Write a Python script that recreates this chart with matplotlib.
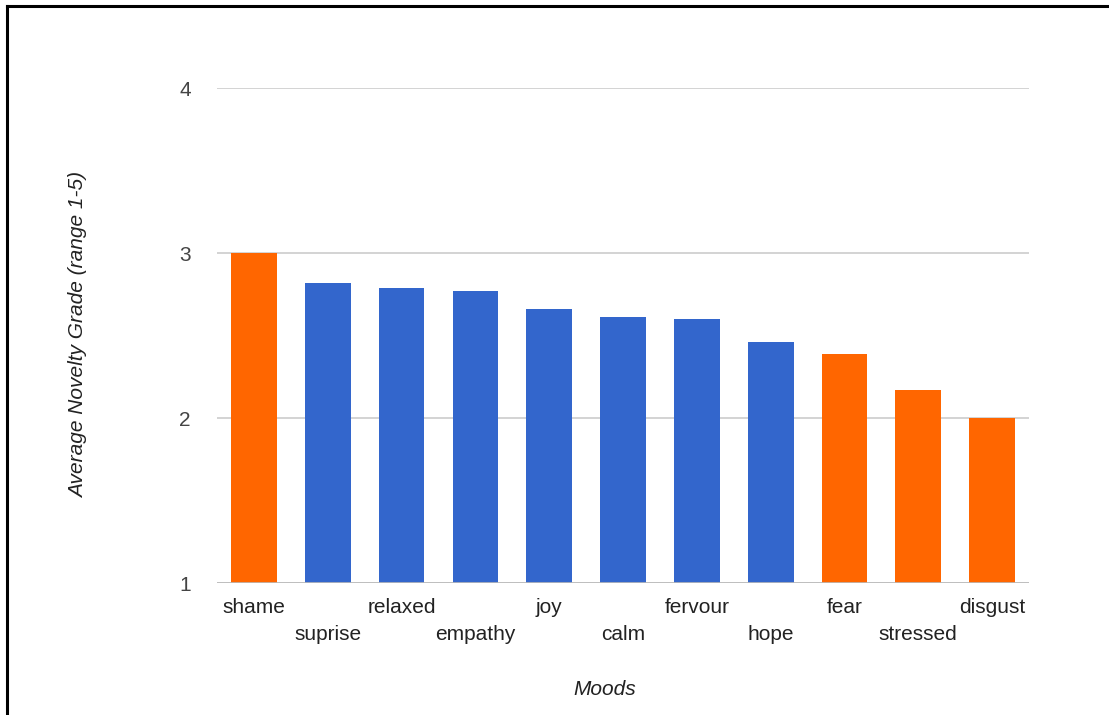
import matplotlib
matplotlib.use("Agg")
import matplotlib.pyplot as plt
from matplotlib.lines import Line2D

moods = ["shame", "suprise", "relaxed", "empathy", "joy", "calm",
         "fervour", "hope", "fear", "stressed", "disgust"]
grades = [3.0, 2.82, 2.79, 2.77, 2.66, 2.61, 2.60, 2.46, 2.39, 2.17, 2.0]
negative = [True, False, False, False, False, False, False, False, True, True, True]
y_ticks = [1, 2, 3, 4]

ORANGE = "#ff6600"
BLUE = "#3366cc"

plt.rcParams["font.family"] = ["Liberation Sans", "DejaVu Sans"]

fig = plt.figure(figsize=(11.09, 7.15), dpi=100)
ax = fig.add_axes([0.1957, 0.1846, 0.7322, 0.6923])

colors = [ORANGE if n else BLUE for n in negative]
x = list(range(len(moods)))
# bars start at the axis floor (1), so draw them from the bottom up
ax.bar(x, [g - 1 for g in grades], bottom=1, width=0.62, color=colors, zorder=3)

ax.set_xlim(-0.5, len(moods) - 0.5)
ax.set_ylim(1, 4)
ax.set_yticks(y_ticks)
ax.set_yticklabels([str(t) for t in y_ticks])
ax.yaxis.grid(True, color="#cccccc", linewidth=1.2, zorder=0)
ax.axhline(1, color="#bbbbbb", linewidth=1.2, zorder=4)

for s in ax.spines.values():
    s.set_visible(False)

ax.set_xticks(x)
ax.set_xticklabels(moods, fontsize=15, color="#222222")
ax.tick_params(axis="both", length=0)
ax.tick_params(axis="y", labelsize=15, labelcolor="#444444", pad=19)

# alternate the category labels over two rows
for i, tick in enumerate(ax.xaxis.get_major_ticks()):
    tick.set_pad(11 if i % 2 == 0 else 30)

fig.text(0.545, 0.035, "Moods", ha="center", va="center", fontsize=15,
         style="italic", color="#222222")
fig.text(0.071, 0.531, "Average Novelty Grade (range 1-5)", ha="center",
         va="center", rotation=90, fontsize=15, style="italic", color="#222222")

# screenshot frame on the top and left edges
fig.add_artist(Line2D([0.0063, 0.0063], [0, 0.9916], color="black", linewidth=2.2,
                      transform=fig.transFigure))
fig.add_artist(Line2D([0.0063, 1], [0.9916, 0.9916], color="black", linewidth=2.2,
                      transform=fig.transFigure))

fig.savefig("out.png", dpi=100)
